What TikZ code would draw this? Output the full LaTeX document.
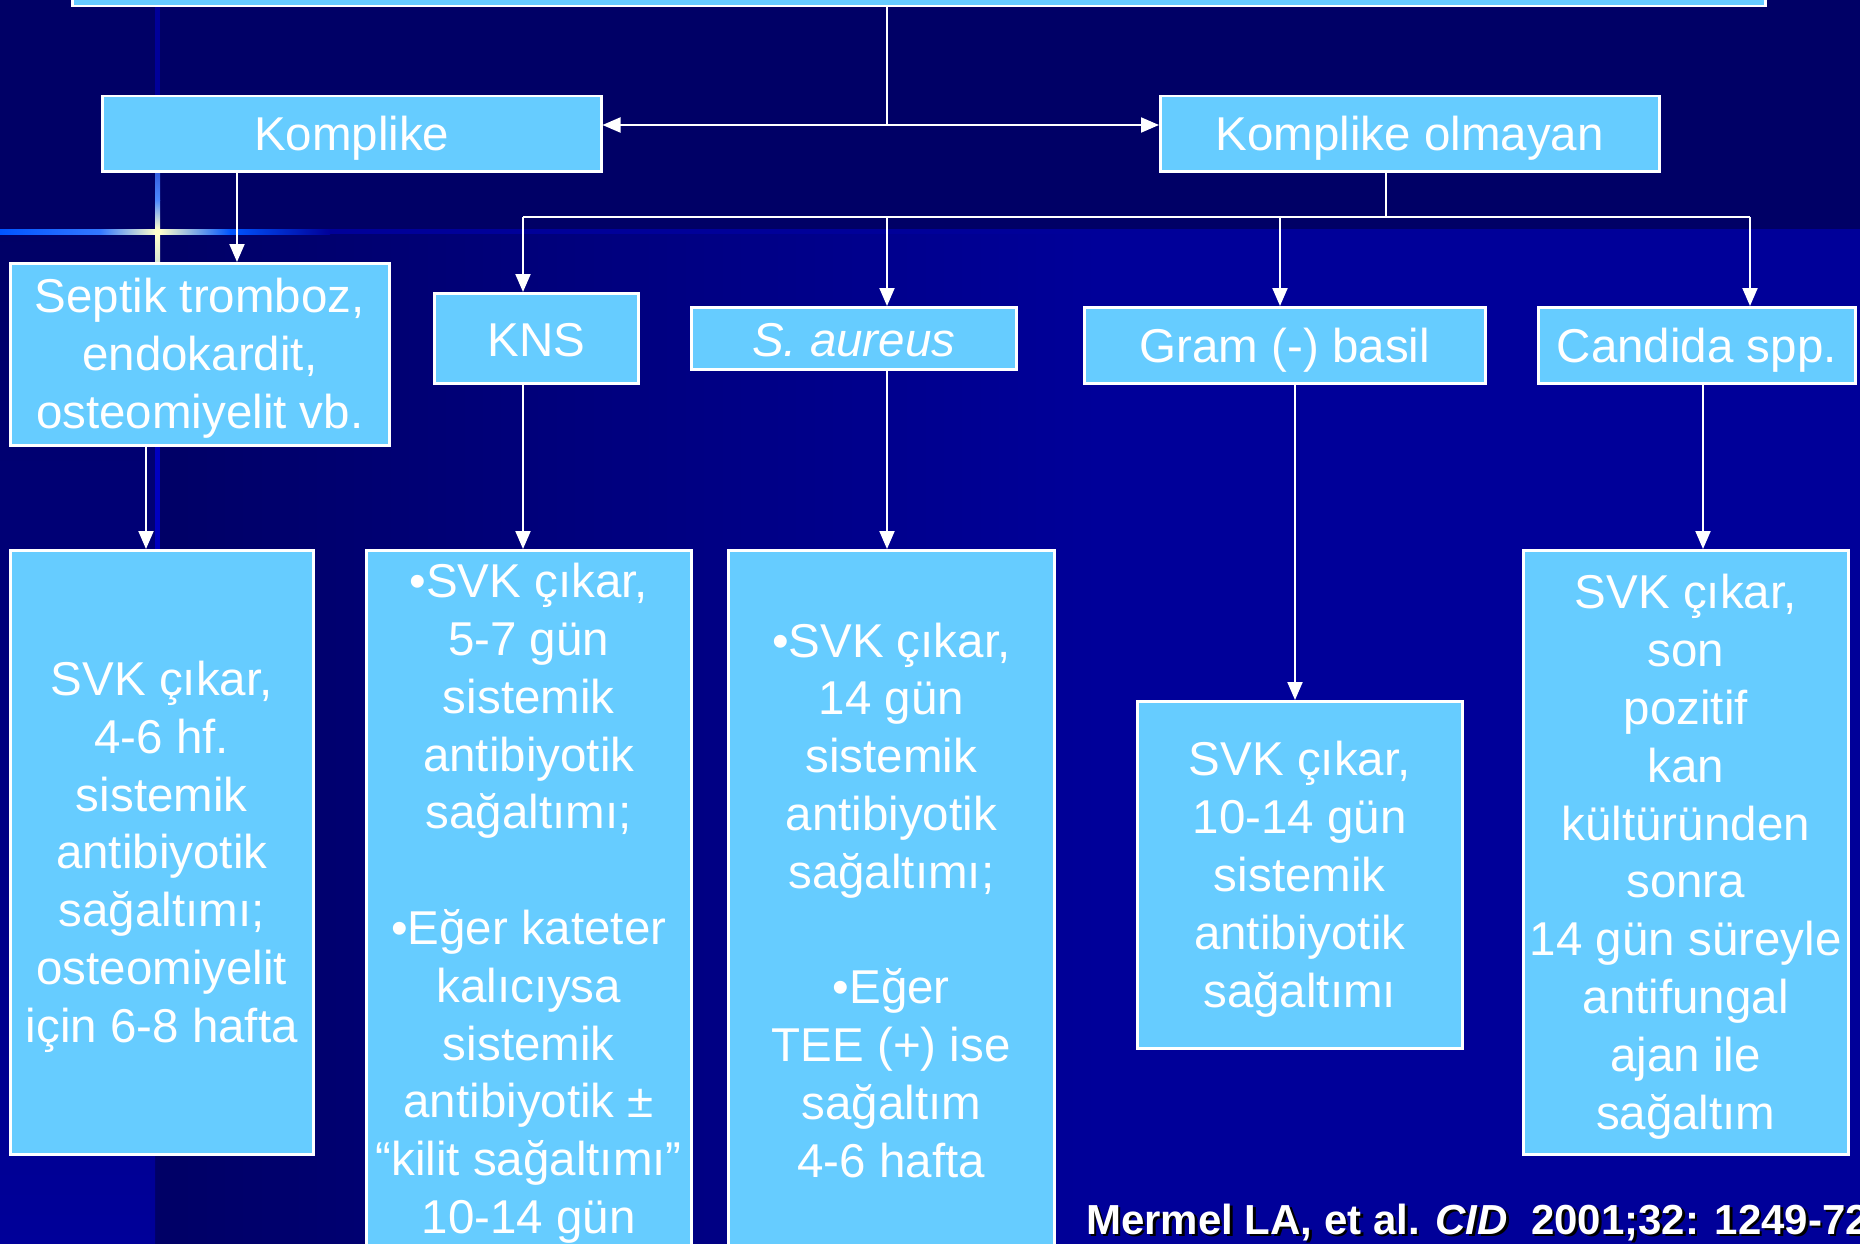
\documentclass[tikz,border=0pt]{standalone}
\usepackage{fontspec}
\setmainfont{Liberation Sans}
\usetikzlibrary{arrows.meta}
\definecolor{bgdark}{HTML}{000066}
\definecolor{bgbright}{HTML}{000099}
\definecolor{boxblue}{HTML}{66CCFF}
\definecolor{glowblue}{HTML}{0055FF}
\definecolor{glowyel}{HTML}{FFFFCC}
\definecolor{glowmid}{HTML}{0000C0}
\begin{document}
\begin{tikzpicture}[x=1pt,y=-1pt,
  mybox/.style={draw=white,line width=2.5pt,fill=boxblue,inner sep=0pt,anchor=north west},
  txt/.style={text=white,inner sep=0pt,align=center,font=\fontsize{47.5}{57.8}\selectfont},
  ln/.style={draw=white,line width=2pt},
  arr/.style={ln,-{Triangle[length=18pt,width=15pt]}},
  darr/.style={ln,{Triangle[length=18pt,width=15pt]}-{Triangle[length=18pt,width=15pt]}},
  citefont/.style={anchor=base west,inner sep=0pt,font=\fontsize{42}{50}\selectfont\bfseries}]
\useasboundingbox (0,0) rectangle (1860,1244);
\clip (0,0) rectangle (1860,1244);
% background
\fill[bgdark] (0,0) rectangle (1860,1244);
\shade[top color=bgdark,bottom color=bgbright] (0,232) rectangle (155,1244);
\shade[left color=bgdark,right color=bgbright] (160,232) rectangle (1100,1244);
\fill[bgbright] (1100,232) rectangle (1860,1244);
% glow lines
\fill[bgbright] (330,229) rectangle (1860,234);
\shade[left color=glowblue,right color=glowblue!80!white] (0,229) rectangle (100,234);
\shade[left color=glowblue!80!white,right color=glowyel] (100,229) rectangle (156,234);
\shade[left color=glowyel,right color=glowblue] (160,229) rectangle (230,234);
\shade[left color=glowblue,right color=bgbright] (230,229) rectangle (330,234);
\fill[bgbright] (155,0) rectangle (160,110);
\shade[top color=bgbright,bottom color=glowblue!70!white] (155,110) rectangle (160,200);
\shade[top color=glowblue!70!white,bottom color=glowyel] (155,200) rectangle (160,229);
\fill[glowyel] (155,229) rectangle (160,234);
\shade[top color=glowyel,bottom color=glowyel!85!glowblue] (155,234) rectangle (160,262);
\fill[glowmid] (155,262) rectangle (160,1153);
% boxes
\node[mybox,minimum width=1693pt,minimum height=30pt] (top) at (71,-25) {};
\node[mybox,minimum width=499pt,minimum height=75pt] (kompl) at (101,95) {};
\node[mybox,minimum width=499pt,minimum height=75pt] (kolm) at (1159,95) {};
\node[mybox,minimum width=379pt,minimum height=182pt] (septik) at (9,262) {};
\node[mybox,minimum width=204pt,minimum height=90pt] (kns) at (433,292) {};
\node[mybox,minimum width=325pt,minimum height=62pt] (saur) at (690,306) {};
\node[mybox,minimum width=401pt,minimum height=76pt] (gram) at (1083,306) {};
\node[mybox,minimum width=317pt,minimum height=76pt] (cand) at (1537,306) {};
\node[mybox,minimum width=303pt,minimum height=604pt] (b1) at (9,549) {};
\node[mybox,minimum width=325pt,minimum height=700pt] (b2) at (365,549) {};
\node[mybox,minimum width=326pt,minimum height=700pt] (b3) at (727,549) {};
\node[mybox,minimum width=325pt,minimum height=347pt] (b4) at (1136,700) {};
\node[mybox,minimum width=325pt,minimum height=604pt] (b5) at (1522,549) {};
% texts
\node[txt] (komplt) at ([yshift=-4.5pt]kompl.center) {Komplike};
\node[txt] (kolmt) at ([yshift=-4.5pt]kolm.center) {Komplike olmayan};
\node[txt] (septikt) at ([yshift=-4pt]septik.center) {Septik tromboz,\\endokardit,\\osteomiyelit vb.};
\node[txt] (knst) at ([yshift=-1.5pt]kns.center) {KNS};
\node[txt] (saurt) at ([yshift=-1.5pt]saur.center) {\textit{S. aureus}};
\node[txt] (gramt) at ([yshift=-4.5pt]gram.center) {Gram (-) basil};
\node[txt] (candt) at ([yshift=-4.5pt]cand.center) {Candida spp.};
\node[txt] (b1t) at ([yshift=-4.5pt]b1.center) {SVK çıkar,\\4-6 hf.\\sistemik\\antibiyotik\\sağaltımı;\\osteomiyelit\\için 6-8 hafta};
\node[txt] (b2t) at ([yshift=-3pt]b2.center) {•SVK çıkar,\\5-7 gün\\sistemik\\antibiyotik\\sağaltımı;\\[57.8pt]•Eğer kateter\\kalıcıysa\\sistemik\\antibiyotik ±\\“kilit sağaltımı”\\10-14 gün};
\node[txt] (b3t) at ([yshift=0pt]b3.center) {•SVK çıkar,\\14 gün\\sistemik\\antibiyotik\\sağaltımı;\\[57.8pt]•Eğer\\TEE (+) ise\\sağaltım\\4-6 hafta};
\node[txt] (b4t) at ([yshift=-4.5pt]b4.center) {SVK çıkar,\\10-14 gün\\sistemik\\antibiyotik\\sağaltımı};
\node[txt] (b5t) at ([yshift=-4.5pt]b5.center) {SVK çıkar,\\son\\pozitif\\kan\\kültüründen\\sonra\\14 gün süreyle\\antifungal\\ajan ile\\sağaltım};
% connector junctions
\coordinate (j0) at (887,125);
\coordinate (c1) at (237,0);
\coordinate (bus) at (1386,217);
\coordinate (xk) at (523,0);
\coordinate (xs) at (887,0);
\coordinate (xg) at (1280,0);
\coordinate (xc) at (1750,0);
\coordinate (x1) at (146,0);
\coordinate (x4) at (1295,0);
\coordinate (x5) at (1703,0);
% connectors
\draw[ln] (top.south -| j0) -- (j0);
\draw[darr] (kompl.east |- j0) -- (kolm.west |- j0);
\draw[arr] (kompl.south -| c1) -- (septik.north -| c1);
\draw[ln] (kolm.south -| bus) -- (bus);
\draw[ln] (bus -| xk) -- (bus -| xc);
\draw[arr] (bus -| xk) -- (kns.north -| xk);
\draw[arr] (bus -| xs) -- (saur.north -| xs);
\draw[arr] (bus -| xg) -- (gram.north -| xg);
\draw[arr] (bus -| xc) -- (cand.north -| xc);
\draw[arr] (septik.south -| x1) -- (b1.north -| x1);
\draw[arr] (kns.south -| xk) -- (b2.north -| xk);
\draw[arr] (saur.south -| xs) -- (b3.north -| xs);
\draw[arr] (gram.south -| x4) -- (b4.north -| x4);
\draw[arr] (cand.south -| x5) -- (b5.north -| x5);
% citation
\node[citefont,text=black] (citesh) at (1088.5,1236.5) {Mermel LA, et al. \textit{CID}\ \ 2001;32: 1249-72};
\node[citefont,text=white] (cite) at (1086,1234) {Mermel LA, et al. \textit{CID}\ \ 2001;32: 1249-72};
\end{tikzpicture}
\end{document}
